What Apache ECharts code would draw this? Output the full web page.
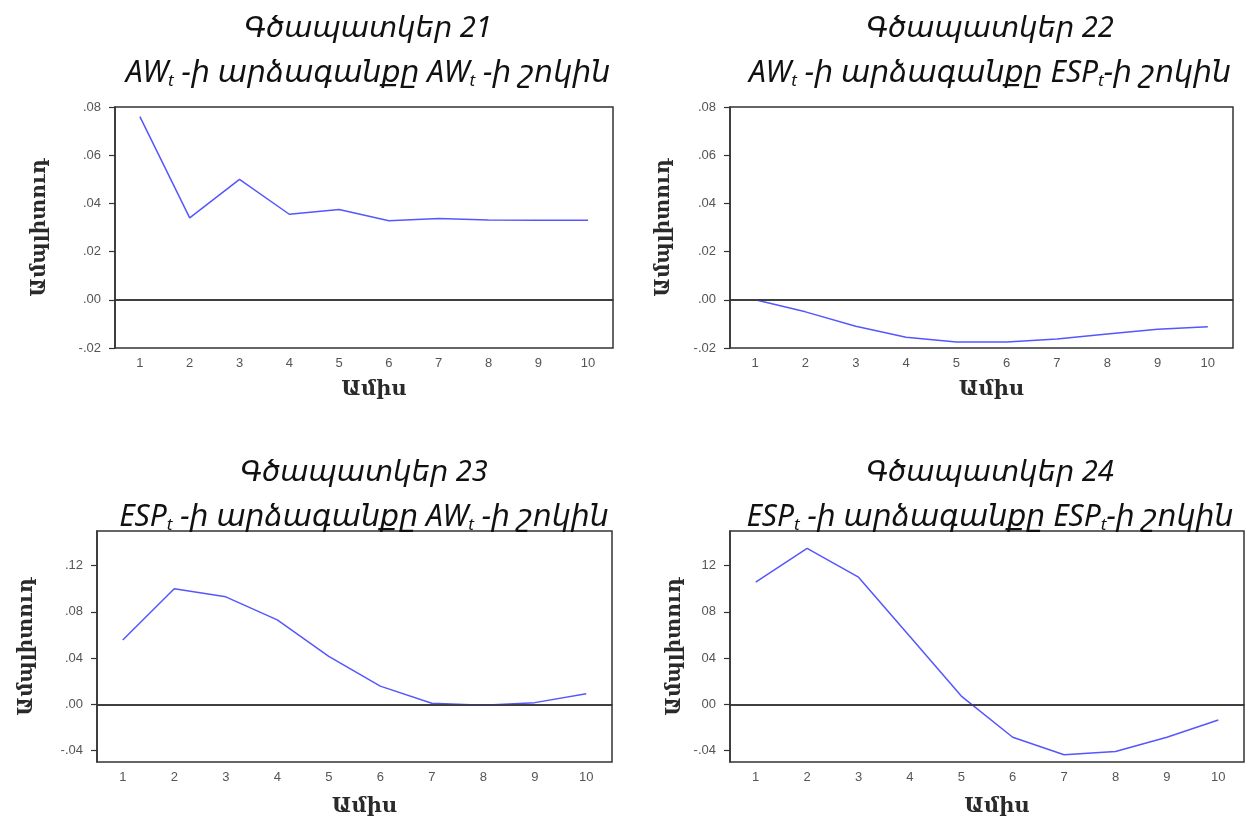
<!DOCTYPE html>
<html>
<head>
<meta charset="utf-8">
<script src="https://cdn.jsdelivr.net/npm/echarts@6/dist/echarts.min.js"></script>
<style>
  html, body { margin: 0; padding: 0; background: #fff; }
  #chart { width: 1257px; height: 821px; }
</style>
</head>
<body>
<div id="chart"></div>
<script>
// months on the x axis
var months = ['1', '2', '3', '4', '5', '6', '7', '8', '9', '10'];

// impulse responses
var awOnAw = [0.076, 0.034, 0.050, 0.0355, 0.0375, 0.0328, 0.0337, 0.0331, 0.033, 0.033];
var awOnEsp = [0.0, -0.005, -0.011, -0.0155, -0.0175, -0.0175, -0.0163, -0.0142, -0.0122, -0.0112];
var espOnAw = [0.0557, 0.100, 0.093, 0.073, 0.0415, 0.0157, 0.0009, -0.0008, 0.0014, 0.0091];
var espOnEsp = [0.1057, 0.135, 0.110, 0.0586, 0.0071, -0.0286, -0.0437, -0.0409, -0.0286, -0.0137];

// y tick values and their labels
var ticksTop = [-0.02, 0, 0.02, 0.04, 0.06, 0.08];
var ticksBottom = [-0.04, 0, 0.04, 0.08, 0.12];
var labelsTop = ['-.02', '.00', '.02', '.04', '.06', '.08'];
var labelsLeft = ['-.04', '.00', '.04', '.08', '.12'];
var labelsRight = ['-.04', '00', '04', '08', '12'];

var titles = [
    ['Գծապատկեր 21', 'AW{s|t} -ի արձագանքը AW{s|t} -ի շոկին'],
    ['Գծապատկեր 22', 'AW{s|t} -ի արձագանքը ESP{s|t}-ի շոկին'],
    ['Գծապատկեր 23', 'ESP{s|t} -ի արձագանքը AW{s|t} -ի շոկին'],
    ['Գծապատկեր 24', 'ESP{s|t} -ի արձագանքը ESP{s|t}-ի շոկին']
];

var frame = '#333';
var lineColor = '#5656ff';
var titleFont = '"Noto Sans", "DejaVu Sans", sans-serif';
var nameFont = '"DejaVu Serif", "Liberation Serif", serif';

var grids = [
    { left: 115, top: 107, width: 498, height: 241 },
    { left: 730, top: 107, width: 503, height: 241 },
    { left: 97, top: 531, width: 515, height: 231 },
    { left: 730, top: 531, width: 514, height: 231 }
];

var panels = [
    { data: awOnAw, ticks: ticksTop, labels: labelsTop, min: -0.02, max: 0.08, yGap: 65, xGap: 31, tx: 368, ty: [27, 73] },
    { data: awOnEsp, ticks: ticksTop, labels: labelsTop, min: -0.02, max: 0.08, yGap: 56, xGap: 31, tx: 990, ty: [27, 73] },
    { data: espOnAw, ticks: ticksBottom, labels: labelsLeft, min: -0.05, max: 0.15, yGap: 60, xGap: 34, tx: 364, ty: [471, 517] },
    { data: espOnEsp, ticks: ticksBottom, labels: labelsRight, min: -0.05, max: 0.15, yGap: 45, xGap: 34, tx: 990, ty: [471, 517] }
];

var xAxes = [], yAxes = [], series = [], graphics = [];

panels.forEach(function (p, i) {
    xAxes.push({
        type: 'category',
        gridIndex: i,
        data: months,
        boundaryGap: true,
        axisLine: { lineStyle: { color: frame, width: 1.5 } },
        axisTick: { length: 4, lineStyle: { color: frame, width: 1.5 } },
        axisLabel: { color: '#555', fontSize: 13, fontFamily: 'Liberation Sans', margin: 9 },
        splitLine: { show: false },
        name: 'Ամիս',
        nameLocation: 'middle',
        nameGap: p.xGap,
        nameTextStyle: { fontFamily: nameFont, fontSize: 21, fontWeight: 'bold', color: '#2a2a2a', padding: [0, 0, 0, 20] }
    });
    yAxes.push({
        type: 'value',
        gridIndex: i,
        min: p.min,
        max: p.max,
        axisLine: { show: true, lineStyle: { color: frame, width: 1.5 } },
        axisTick: { show: true, length: 6, customValues: p.ticks, lineStyle: { color: frame, width: 1.2 } },
        axisLabel: {
            color: '#555', fontSize: 13, fontFamily: 'Liberation Sans', margin: 14,
            customValues: p.ticks,
            formatter: function (v) {
                var k = p.ticks.findIndex(function (t) { return Math.abs(t - v) < 1e-9; });
                return k >= 0 ? p.labels[k] : '';
            }
        },
        splitLine: { show: false },
        name: 'Ամպլիտուդ',
        nameLocation: 'middle',
        nameGap: p.yGap,
        nameTextStyle: { fontFamily: nameFont, fontSize: 20, fontWeight: 'bold', color: '#2a2a2a' }
    });
    series.push({
        type: 'line',
        xAxisIndex: i,
        yAxisIndex: i,
        data: p.data,
        showSymbol: false,
        lineStyle: { color: lineColor, width: 1.5 },
        silent: true,
        markLine: {
            silent: true,
            symbol: 'none',
            label: { show: false },
            lineStyle: { color: frame, width: 1.5, type: 'solid' },
            data: [{ yAxis: 0 }]
        }
    });
    graphics.push({
        type: 'text', x: p.tx, y: p.ty[0] + 2,
        style: { text: titles[i][0], fill: '#111', align: 'center', verticalAlign: 'middle',
                 fontFamily: titleFont, fontStyle: 'italic', fontSize: 29 }
    });
    graphics.push({
        type: 'text', x: p.tx, y: p.ty[1],
        style: {
            text: titles[i][1], fill: '#111', align: 'center', verticalAlign: 'middle',
            fontFamily: titleFont, fontStyle: 'italic', fontSize: 30,
            rich: { s: { fontFamily: titleFont, fontStyle: 'italic', fontSize: 17, fill: '#111', padding: [16, 0, 0, 0] } }
        }
    });
});

var chart = echarts.init(document.getElementById('chart'));
chart.setOption({
    backgroundColor: '#fff',
    animation: false,
    grid: grids.map(function (g) {
        return { left: g.left, top: g.top, width: g.width, height: g.height, show: true,
                 borderColor: frame, borderWidth: 1.5, backgroundColor: '#fff' };
    }),
    xAxis: xAxes,
    yAxis: yAxes,
    series: series,
    graphic: graphics
});
</script>
</body>
</html>
